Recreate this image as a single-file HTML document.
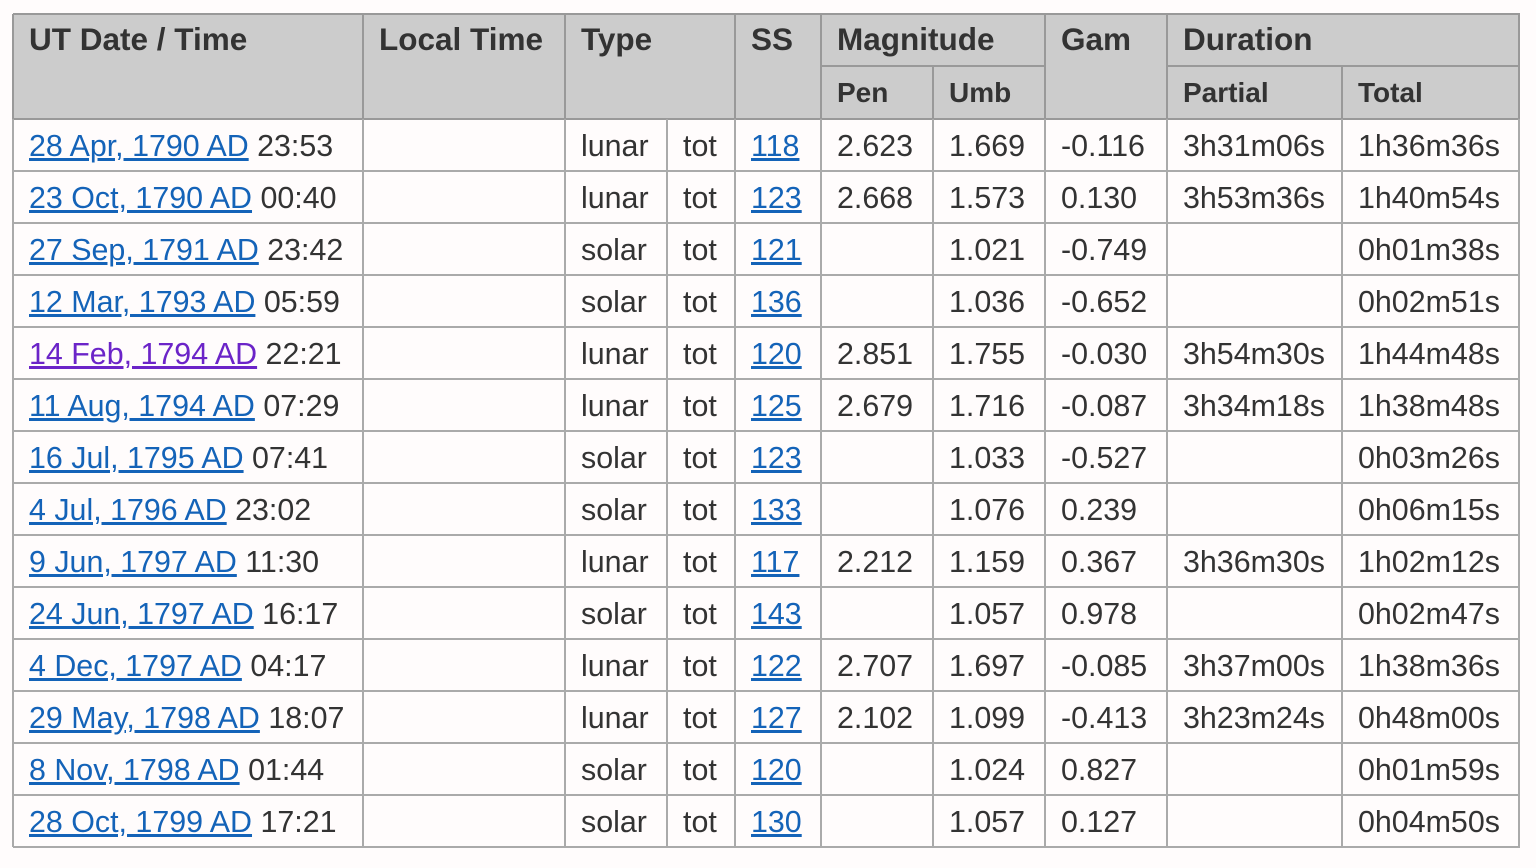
<!DOCTYPE html>
<html><head><meta charset="utf-8"><style>
body{margin:0;width:1536px;height:868px;background:#fffcfc;font-family:"Liberation Sans",Arial,sans-serif;color:#333;position:relative;overflow:hidden}
.c{position:absolute;box-sizing:border-box;font-size:30.4px;line-height:54px;padding-left:16px;white-space:nowrap}
.h{background:#cccccc;font-weight:bold;font-size:31.5px;line-height:50px}
.v{position:absolute;background:#aaa}
a{color:#1463b8;text-decoration:underline}
a.vis{color:#6b24c8}
</style></head><body>
<div id="t"></div>
<script>
const X=[13,363,565,667,735,821,933,1045,1167,1342,1519];
const dates=["28 Apr, 1790 AD","23 Oct, 1790 AD","27 Sep, 1791 AD","12 Mar, 1793 AD","14 Feb, 1794 AD","11 Aug, 1794 AD","16 Jul, 1795 AD","4 Jul, 1796 AD","9 Jun, 1797 AD","24 Jun, 1797 AD","4 Dec, 1797 AD","29 May, 1798 AD","8 Nov, 1798 AD","28 Oct, 1799 AD"];
const times=["23:53","00:40","23:42","05:59","22:21","07:29","07:41","23:02","11:30","16:17","04:17","18:07","01:44","17:21"];
const types=["lunar","lunar","solar","solar","lunar","lunar","solar","solar","lunar","solar","lunar","lunar","solar","solar"];
const ss=["118","123","121","136","120","125","123","133","117","143","122","127","120","130"];
const pen=["2.623","2.668","","","2.851","2.679","","","2.212","","2.707","2.102","",""];
const umb=["1.669","1.573","1.021","1.036","1.755","1.716","1.033","1.076","1.159","1.057","1.697","1.099","1.024","1.057"];
const gam=["-0.116","0.130","-0.749","-0.652","-0.030","-0.087","-0.527","0.239","0.367","0.978","-0.085","-0.413","0.827","0.127"];
const partial=["3h31m06s","3h53m36s","","","3h54m30s","3h34m18s","","","3h36m30s","","3h37m00s","3h23m24s","",""];
const total=["1h36m36s","1h40m54s","0h01m38s","0h02m51s","1h44m48s","1h38m48s","0h03m26s","0h06m15s","1h02m12s","0h02m47s","1h38m36s","0h48m00s","0h01m59s","0h04m50s"];
const T=document.getElementById('t');
function cell(x0,x1,y0,y1,html,cls,name){const d=document.createElement('div');d.className='c '+(cls||'');
d.style.left=x0+'px';d.style.top=y0+'px';d.style.width=(x1-x0)+'px';d.style.height=(y1-y0)+'px';d.innerHTML=html;


T.appendChild(d);return d;}
function line(x,y,w,h,c){const d=document.createElement('div');d.className='v';d.style.left=x+'px';d.style.top=y+'px';d.style.width=w+'px';d.style.height=h+'px';if(c)d.style.background=c;


T.appendChild(d);}
const H0=14,H1=66,H2=119,R=52;
cell(X[0],X[10],H0,H2,'','h','header-background');
const hd=[[0,1,'UT Date / Time',1],[1,2,'Local Time',1],[2,4,'Type',1],[4,5,'SS',1],[5,7,'Magnitude',0],[7,8,'Gam',1],[8,10,'Duration',0]];
hd.forEach(h=>cell(X[h[0]],X[h[1]],H0,h[3]?H2:H1,h[2],'h','header-'+h[2].toLowerCase().replace(/[^a-z]+/g,'-')));
[[5,6,'Pen'],[6,7,'Umb'],[8,9,'Partial'],[9,10,'Total']].forEach(h=>{const d=cell(X[h[0]],X[h[1]],H1,H2,h[2],'h','header-'+h[2].toLowerCase());d.style.background='transparent';d.style.fontSize='28px';d.style.lineHeight='54px';});
for(let i=0;i<dates.length;i++){const y=H2+i*R;
 const row=[
  '<a href="#" class="'+(i==4?'vis':'')+'">'+dates[i]+'</a> '+times[i],'',types[i],'tot',
  '<a href="#">'+ss[i]+'</a>',pen[i],umb[i],gam[i],partial[i],total[i]];
 row.forEach((v,j)=>cell(X[j],X[j+1],y,y+R,v,'',['date-time','local-time','type','subtype','saros','pen','umb','gamma','partial','total'][j]+'-cell'));
}
const yEnd=H2+dates.length*R;
line(X[0],H0-1,X[10]-X[0]+1,2,'#999');
line(X[5],H1-1,X[7]-X[5],2,'#999');line(X[8],H1-1,X[10]-X[8],2,'#999');
line(X[0],H2-1,X[10]-X[0]+1,2,'#999');
for(let i=1;i<=dates.length;i++)line(X[0],H2+i*R-1,X[10]-X[0]+1,2);
X.forEach((x,j)=>{
 if(j==3){line(x-1,H2,2,yEnd-H2);}
 else if(j==6||j==9){line(x-1,H1,2,H2-H1,'#999');line(x-1,H2,2,yEnd-H2);}
 else{line(x-1,H0,2,H2-H0,'#999');line(x-1,H2,2,yEnd-H2);}
});
</script>
</body></html>
